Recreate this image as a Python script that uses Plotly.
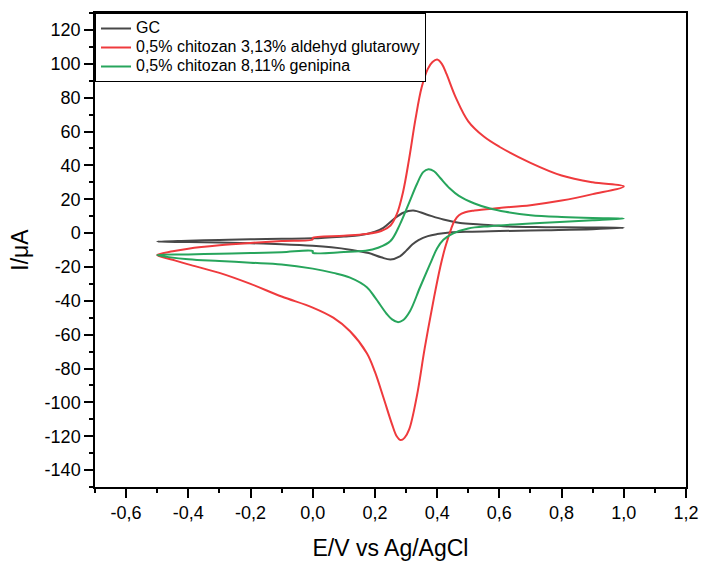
import plotly.graph_objects as go

# ---------------- data ----------------
# GC
gc_E = [-0.5, -0.4, -0.3, -0.2, -0.1, 0.0, 0.1, 0.15, 0.2, 0.227, 0.259, 0.291, 0.323, 0.366, 0.42, 0.474, 0.538, 0.624, 0.75, 0.88, 1.0,
        0.9, 0.75, 0.6, 0.5, 0.44, 0.4, 0.37, 0.34, 0.32, 0.30, 0.28, 0.25, 0.22, 0.18, 0.12, 0.06, 0.0, -0.1, -0.2, -0.3, -0.4, -0.5]
gc_I = [-5.0, -4.5, -4.1, -3.7, -3.4, -3.1, -2.0, -1.3, 0.8, 3.1, 8.0, 12.0, 13.4, 11.0, 8.0, 6.0, 5.1, 3.9, 3.5, 3.3, 3.1,
        2.3, 1.7, 1.2, 0.8, 0.3, -0.6, -1.8, -4.2, -6.8, -10.5, -13.8, -15.6, -14.3, -11.8, -9.8, -8.4, -7.5, -6.6, -6.0, -5.6, -5.3, -5.0]

# 0,5% chitozan 3,13% aldehyd glutarowy
ga_E = [-0.5, -0.45, -0.4, -0.3, -0.2, -0.1, 0.0, 0.0, 0.1, 0.17, 0.22, 0.25, 0.27, 0.29, 0.31, 0.33, 0.35, 0.37, 0.385, 0.40, 0.415,
        0.43, 0.46, 0.5, 0.55, 0.6, 0.7, 0.8, 0.9, 1.0,
        0.9, 0.8, 0.7, 0.6, 0.52, 0.49, 0.47, 0.455, 0.445, 0.435, 0.425, 0.41, 0.39, 0.36, 0.335, 0.31, 0.295, 0.283, 0.27, 0.255, 0.227,
        0.2, 0.174, 0.12, 0.066, 0.0, -0.1, -0.2, -0.3, -0.4, -0.45, -0.5]
ga_I = [-13.0, -10.8, -9.2, -7.2, -5.8, -4.7, -3.7, -2.8, -1.6, -0.6, 1.2, 4.5, 11.0, 24.0, 44.0, 67.0, 86.0, 97.0, 101.0, 102.5, 100.0,
        94.0, 80.0, 66.0, 57.0, 51.0, 41.5, 34.0, 30.0, 27.6,
        23.0, 19.2, 16.5, 14.8, 13.3, 12.3, 10.5, 7.0, 2.5, -3.0, -9.0, -20.0, -38.0, -68.0, -96.0, -116.0, -121.0, -122.3, -120.0, -113.0, -97.0,
        -82.0, -71.0, -58.0, -50.0, -44.0, -37.5, -30.0, -23.5, -18.5, -15.8, -13.0]

# 0,5% chitozan 8,11% genipina
gp_E = [-0.5, -0.4, -0.3, -0.2, -0.1, 0.0, 0.0, 0.1, 0.17, 0.21, 0.25, 0.28, 0.31, 0.335, 0.355, 0.372, 0.39, 0.41, 0.44, 0.47,
        0.52, 0.57, 0.62, 0.7, 0.8, 0.9, 1.0,
        0.9, 0.73, 0.57, 0.5, 0.45, 0.42, 0.40, 0.377, 0.345, 0.313, 0.29, 0.273, 0.255, 0.238, 0.2, 0.174, 0.12, 0.066, 0.0,
        -0.1, -0.2, -0.3, -0.4, -0.5]
gp_I = [-13.0, -12.6, -12.2, -11.8, -11.3, -10.6, -11.6, -11.2, -10.5, -8.7, -4.7, 5.0, 18.0, 29.0, 36.0, 37.7, 36.5, 32.5, 26.5, 22.0,
        17.5, 14.5, 12.6, 10.6, 9.5, 8.9, 8.6,
        7.5, 6.0, 4.1, 2.7, -0.3, -4.0, -9.0, -18.4, -32.0, -46.0, -51.5, -52.6, -51.0, -47.8, -38.0, -32.0, -26.3, -23.5, -21.0,
        -18.5, -17.5, -16.5, -15.5, -13.0]

series_names = ["GC", "0,5% chitozan 3,13% aldehyd glutarowy", "0,5% chitozan 8,11% genipina"]
series_colors = ["#484848", "#ef3a3d", "#27a55c"]

x_tickvals = [-0.6, -0.4, -0.2, 0.0, 0.2, 0.4, 0.6, 0.8, 1.0, 1.2]
x_ticktext = ["-0,6", "-0,4", "-0,2", "0,0", "0,2", "0,4", "0,6", "0,8", "1,0", "1,2"]
y_tickvals = [-140, -120, -100, -80, -60, -40, -20, 0, 20, 40, 60, 80, 100, 120]
y_ticktext = ["-140", "-120", "-100", "-80", "-60", "-40", "-20", "0", "20", "40", "60", "80", "100", "120"]

# ---------------- figure ----------------
FONT = "Arial, Liberation Sans, sans-serif"
fig = go.Figure()
for E, I, name, col in zip([gc_E, ga_E, gp_E], [gc_I, ga_I, gp_I], series_names, series_colors):
    fig.add_trace(go.Scatter(x=E, y=I, mode="lines",
                             name='<span style="font-size:16px">' + name + '</span>',
                             line=dict(color=col, width=2, shape="spline", smoothing=1.0)))

axis_common = dict(showline=True, linecolor="black", linewidth=1.5, mirror=True,
                   ticks="outside", ticklen=9, tickwidth=1.5, tickcolor="black",
                   showgrid=False, zeroline=False, automargin=False,
                   tickfont=dict(family=FONT, size=18, color="black"))

fig.update_xaxes(range=[-0.7, 1.2], tickmode="array", tickvals=x_tickvals, ticktext=x_ticktext,
                 title=dict(text="E/V vs Ag/AgCl", font=dict(family=FONT, size=23, color="black"), standoff=18),
                 minor=dict(tickmode="linear", tick0=-0.7, dtick=0.1, ticks="outside", ticklen=4.5,
                            tickwidth=1.5, tickcolor="black", showgrid=False),
                 **axis_common)
fig.update_yaxes(range=[-150, 130], tickmode="array", tickvals=y_tickvals, ticktext=y_ticktext,
                 title=dict(text="I/μA", font=dict(family=FONT, size=23, color="black"), standoff=10),
                 minor=dict(tickmode="linear", tick0=-150, dtick=10, ticks="outside", ticklen=4.5,
                            tickwidth=1.5, tickcolor="black", showgrid=False),
                 **axis_common)

fig.update_layout(
    width=702, height=561,
    margin=dict(l=95, r=16, t=13, b=74),
    paper_bgcolor="white", plot_bgcolor="white",
    font=dict(family=FONT, color="black"),
    legend=dict(x=0, y=1, xanchor="left", yanchor="top",
                bgcolor="white", bordercolor="black", borderwidth=1,
                font=dict(family=FONT, size=12.3, color="black"),
                tracegroupgap=0, itemwidth=30),
    showlegend=True,
)

fig.write_html("out.html", config={"displayModeBar": False},
               post_script="document.body.style.margin='0px';")
